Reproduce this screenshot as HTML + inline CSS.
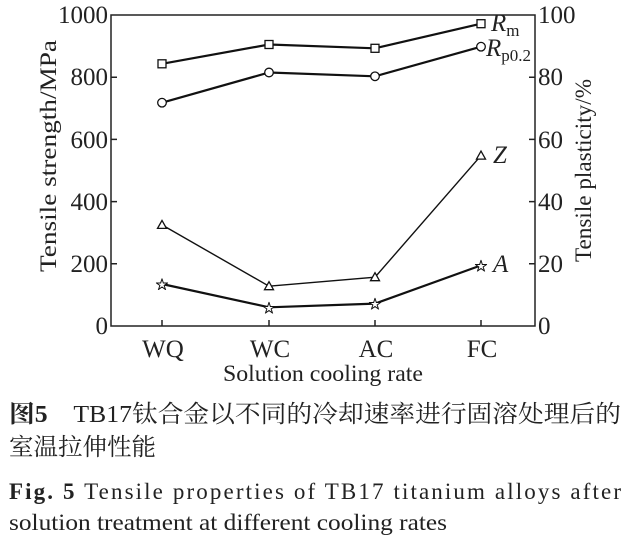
<!DOCTYPE html>
<html><head><meta charset="utf-8"><style>
body{margin:0;background:#fff;width:625px;height:557px;overflow:hidden}
svg{display:block}
.t{font-family:"Liberation Serif","Noto Serif CJK SC",serif;fill:#222}
</style></head><body>
<svg width="625" height="557" viewBox="0 0 625 557">
<g stroke="#222" stroke-width="1.5" fill="none">
<rect x="111" y="15" width="424" height="311"/>
<path d="M111 263.8h6M111 201.6h6M111 139.4h6M111 77.2h6M535 263.8h-6M535 201.6h-6M535 139.4h-6M535 77.2h-6M162 326v-6M269 326v-6M375 326v-6M481 326v-6"/>
</g>
<g stroke="#111" stroke-width="2.2" fill="none">
<polyline points="162,63.8 269,44.5 375,48.3 481,23.7"/>
<polyline points="162,102.7 269,72.5 375,76.3 481,46.7"/>
<polyline points="162,284 269,307.3 375,303.6 481,265.4"/>
</g>
<polyline stroke="#111" stroke-width="1.4" fill="none" points="162,224.9 269,286.2 375,277.2 481,155.6"/>
<g stroke="#111" stroke-width="1.3" fill="#fff">
<rect x="158" y="59.8" width="8" height="8"/><rect x="265" y="40.5" width="8" height="8"/><rect x="371" y="44.3" width="8" height="8"/><rect x="477" y="19.7" width="8" height="8"/>
<circle cx="162" cy="102.7" r="4.3"/><circle cx="269" cy="72.5" r="4.3"/><circle cx="375" cy="76.3" r="4.3"/><circle cx="481" cy="46.7" r="4.3"/>
<path d="M162 220.4l4.5 8h-9z"/><path d="M269 281.7l4.5 8h-9z"/><path d="M375 272.7l4.5 8h-9z"/><path d="M481 151.1l4.5 8h-9z"/>
</g>
<g font-size="12" class="t">
<text x="162" y="288.5" text-anchor="middle" style="fill:#fff;stroke:#111">★</text>
<text x="269" y="311.8" text-anchor="middle" style="fill:#fff;stroke:#111">★</text>
<text x="375" y="308.1" text-anchor="middle" style="fill:#fff;stroke:#111">★</text>
<text x="481" y="269.9" text-anchor="middle" style="fill:#fff;stroke:#111">★</text>
</g>
<g class="t" font-size="25">
<g text-anchor="end">
<text x="108" y="334">0</text><text x="108" y="272">200</text><text x="108" y="210">400</text><text x="108" y="148">600</text><text x="108" y="85">800</text><text x="108" y="23">1000</text>
</g>
<g>
<text x="538" y="334">0</text><text x="538" y="272">20</text><text x="538" y="210">40</text><text x="538" y="148">60</text><text x="538" y="85">80</text><text x="538" y="23">100</text>
</g>
<g text-anchor="middle">
<text x="163" y="357">WQ</text><text x="270" y="357">WC</text><text x="376" y="357">AC</text><text x="482" y="357">FC</text>
</g>
<text x="223" y="381" font-size="23" textLength="200" lengthAdjust="spacingAndGlyphs">Solution cooling rate</text>
<text transform="translate(56,272) rotate(-90)" font-size="23" textLength="232" lengthAdjust="spacingAndGlyphs">Tensile strength/MPa</text>
<text transform="translate(591,262) rotate(-90)" font-size="23" textLength="183" lengthAdjust="spacingAndGlyphs">Tensile plasticity/%</text>
<text x="491" y="31" font-style="italic">R<tspan font-style="normal" font-size="17" dy="5">m</tspan></text>
<text x="486" y="56" font-style="italic">R<tspan font-style="normal" font-size="17" dy="5">p0.2</tspan></text>
<text x="493" y="163" font-style="italic">Z</text>
<text x="493" y="272" font-style="italic">A</text>
</g>
<g class="t" font-size="24">
<text x="9" y="422" textLength="612" lengthAdjust="spacingAndGlyphs"><tspan font-weight="bold">图5</tspan>　TB17钛合金以不同的冷却速率进行固溶处理后的</text>
<text x="9" y="455" textLength="147" lengthAdjust="spacingAndGlyphs">室温拉伸性能</text>
<text x="9" y="499" font-size="23" textLength="612" lengthAdjust="spacing"><tspan font-weight="bold">Fig. 5</tspan>   Tensile properties of TB17 titanium alloys after</text>
<text x="9" y="530" font-size="23" textLength="438" lengthAdjust="spacingAndGlyphs">solution treatment at different cooling rates</text>
</g>
</svg>
</body></html>
